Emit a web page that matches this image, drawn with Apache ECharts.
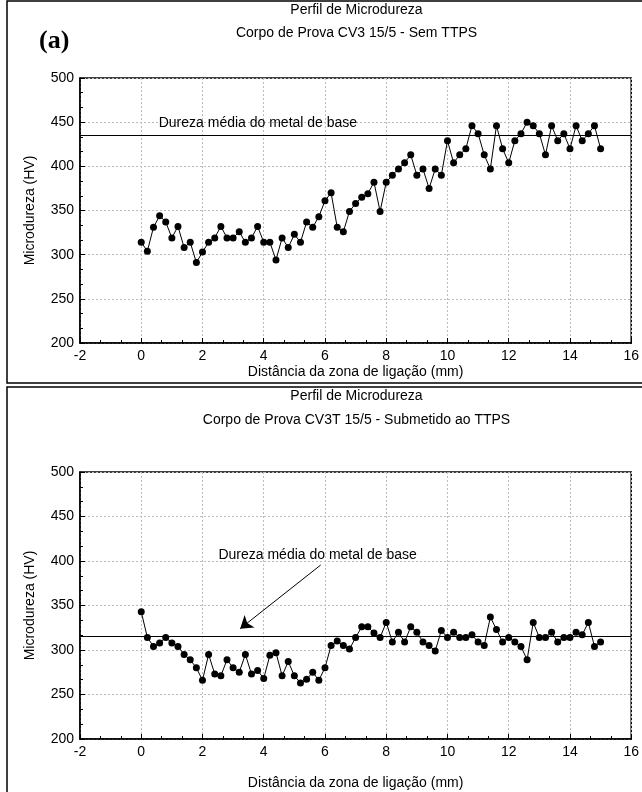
<!DOCTYPE html>
<html>
<head>
<meta charset="utf-8">
<script src="https://cdn.jsdelivr.net/npm/echarts@6/dist/echarts.min.js"></script>
<style>
html,body{margin:0;padding:0;background:#fff;}
#c{width:642px;height:792px;}
</style>
</head>
<body>
<div id="c"></div>
<script>
const distancia = [0,0.2,0.4,0.6,0.8,1,1.2,1.4,1.6,1.8,2,2.2,2.4,2.6,2.8,3,3.2,3.4,3.6,3.8,4,4.2,4.4,4.6,4.8,
  5,5.2,5.4,5.6,5.8,6,6.2,6.4,6.6,6.8,7,7.2,7.4,7.6,7.8,8,8.2,8.4,8.6,8.8,9,9.2,9.4,9.6,9.8,
  10,10.2,10.4,10.6,10.8,11,11.2,11.4,11.6,11.8,12,12.2,12.4,12.6,12.8,13,13.2,13.4,13.6,13.8,14,14.2,14.4,14.6,14.8,15];
const durezaSemTTPS = [314,304,331,344,337,319,332,308,314,291,303,314,319,332,319,319,326,314,319,332,314,314,294,319,308,
  323,314,337,331,343,361,370,331,326,349,358,365,369,382,349,382,390,397,404,413,390,397,375,397,390,429,
  404,413,420,446,437,413,397,446,420,404,429,437,450,446,437,413,446,429,437,420,446,429,437,446,420];
const durezaComTTPS = [343,314,304,308,314,308,304,295,289,280,266,295,273,271,289,280,275,295,273,277,268,294,297,271,287,271,263,267,275,266,280,
  305,310,305,301,314,326,326,319,314,331,309,320,309,326,320,309,305,299,322,314,320,314,314,317,309,305,337,323,309,314,309,304,289,331,314,314,320,309,314,314,320,317,331,304,309];
const mediaBase = [435, 316];
const titulos = [["Perfil de Microdureza","Corpo de Prova CV3 15/5 - Sem TTPS"],["Perfil de Microdureza","Corpo de Prova CV3T 15/5 - Submetido ao TTPS"]];
const textoMedia = "Dureza média do metal de base";
const nomeX = "Distância da zona de ligação (mm)";
const nomeY = "Microdureza (HV)";

const FONT = "Liberation Sans";
const chart = echarts.init(document.getElementById('c'), null, {renderer:'canvas'});

function xAx(i, gap){
  return {
    type:'value', gridIndex:i, min:-2, max:16, interval:2,
    name:nomeX, nameLocation:'middle', nameGap:gap,
    nameTextStyle:{fontFamily:FONT, fontSize:14, color:'#000'},
    axisLine:{show:true, onZero:false, lineStyle:{color:'#000', width:1.5}},
    axisTick:{show:true, inside:true, length:5, lineStyle:{color:'#000'}},
    minorTick:{show:true, splitNumber:3, length:3, lineStyle:{color:'#000'}},
    axisLabel:{fontFamily:FONT, fontSize:14, color:'#000', margin:6},
    splitLine:{show:true, lineStyle:{color:'#bbb', type:[2,2], width:1}}
  };
}
function yAx(i){
  return {
    type:'value', gridIndex:i, min:200, max:500, interval:50,
    name:nomeY, nameLocation:'middle', nameGap:43,
    nameTextStyle:{fontFamily:FONT, fontSize:14, color:'#000'},
    axisLine:{show:true, onZero:false, lineStyle:{color:'#000', width:1.5}},
    axisTick:{show:true, inside:true, length:5, lineStyle:{color:'#000'}},
    minorTick:{show:true, splitNumber:3, length:3, lineStyle:{color:'#000'}},
    axisLabel:{fontFamily:FONT, fontSize:14, color:'#000', margin:6},
    splitLine:{show:true, lineStyle:{color:'#bbb', type:[2,2], width:1}}
  };
}
function serie(i, vals){
  return {
    type:'line', xAxisIndex:i, yAxisIndex:i,
    data: distancia.map((d,k)=>[d, vals[k]]),
    symbol:'circle', symbolSize:7, showSymbol:true,
    lineStyle:{color:'#000', width:1},
    itemStyle:{color:'#000'},
    animation:false,
    markLine:{
      silent:true, symbol:['none','none'], animation:false,
      lineStyle:{color:'#000', width:1.2, type:'solid'},
      label:{show:false},
      data:[{yAxis:mediaBase[i]}]
    }
  };
}

const option = {
  backgroundColor:'#fff',
  animation:false,
  grid:[
    {left:80, top:78, width:553, height:265, show:true, borderColor:'#000', borderWidth:1.5},
    {left:80, top:472, width:553, height:267, show:true, borderColor:'#000', borderWidth:1.5}
  ],
  xAxis:[xAx(0,22), xAx(1,37)],
  yAxis:[yAx(0), yAx(1)],
  series:[
    serie(0, durezaSemTTPS),
    serie(1, durezaComTTPS),
    {
      type:'lines', coordinateSystem:'cartesian2d', xAxisIndex:1, yAxisIndex:1,
      polyline:false, animation:false, silent:true,
      symbol:['none','arrow'], symbolSize:[0,12],
      lineStyle:{color:'#000', width:1, opacity:1},
      data:[{coords:[[5.86,395.5],[3.23,324]]}]
    }
  ]
};
chart.setOption(option);

const p1 = chart.convertToPixel({gridIndex:0}, [0.57, 449]);
const p2 = chart.convertToPixel({gridIndex:1}, [2.52, 407]);
const cx = 80 + 553/2;
chart.setOption({
  graphic:[
    {type:'rect', shape:{x:7, y:1, width:650, height:382}, style:{fill:'none', stroke:'#000', lineWidth:1.5}, z:-1},
    {type:'rect', shape:{x:7, y:387, width:650, height:420}, style:{fill:'none', stroke:'#000', lineWidth:1.5}, z:-1},
    {type:'text', x:cx, y:10, style:{text:titulos[0][0], font:'14px "Liberation Sans"', fill:'#000', textAlign:'center', textVerticalAlign:'middle'}},
    {type:'text', x:cx, y:33, style:{text:titulos[0][1], font:'14px "Liberation Sans"', fill:'#000', textAlign:'center', textVerticalAlign:'middle'}},
    {type:'text', x:39, y:41, style:{text:'(a)', font:'bold 26px "Liberation Serif"', fill:'#000', textAlign:'left', textVerticalAlign:'middle'}},
    {type:'text', x:cx, y:396, style:{text:titulos[1][0], font:'14px "Liberation Sans"', fill:'#000', textAlign:'center', textVerticalAlign:'middle'}},
    {type:'text', x:cx, y:420, style:{text:titulos[1][1], font:'14px "Liberation Sans"', fill:'#000', textAlign:'center', textVerticalAlign:'middle'}},
    {type:'text', x:p1[0], y:p1[1], style:{text:textoMedia, font:'14px "Liberation Sans"', fill:'#000', textAlign:'left', textVerticalAlign:'middle'}},
    {type:'text', x:p2[0], y:p2[1], style:{text:textoMedia, font:'14px "Liberation Sans"', fill:'#000', textAlign:'left', textVerticalAlign:'middle'}}
  ]
});
</script>
</body>
</html>
